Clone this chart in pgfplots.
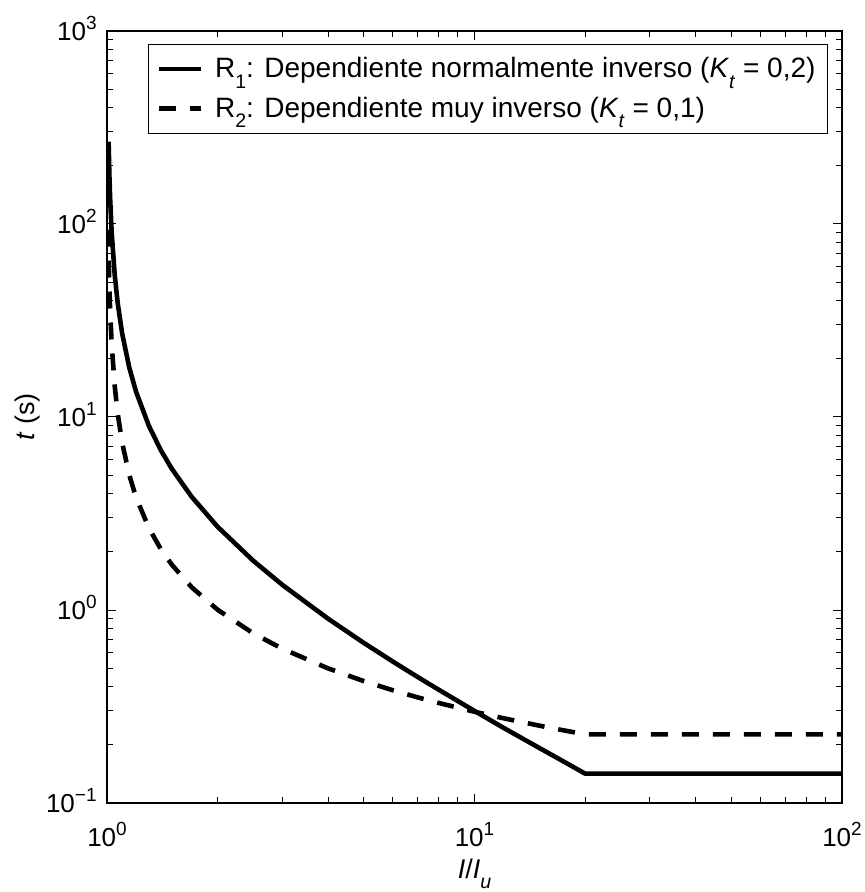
\documentclass[border=0pt]{standalone}
\usepackage{fontspec}
\setmainfont{Liberation Sans}
\usepackage{pgfplots}
\pgfplotsset{compat=1.18}

\newcommand\sus[1]{\raisebox{0.42em}{\fontsize{9.5}{10}\selectfont #1}}
\newcommand\sbs[1]{\raisebox{-0.38em}{\fontsize{9.8}{10}\selectfont #1}}

% R1 and R2
\pgfplotstableread{
I        t
1.0101   267
1.015    180
1.02     135
1.03     90
1.05     54
1.07     38.6
1.1      27
1.15     18
1.2      13.5
1.3      9.0
1.4      6.75
1.5      5.4
1.7      3.86
2        2.7
2.5      1.8
3        1.35
4        0.9
5        0.675
6        0.54
7        0.45
8        0.386
10       0.3
12       0.245
15       0.193
17       0.169
20       0.142
100      0.142
}\rone
\pgfplotstableread{
I        t
1.0075   93.6
1.0101   69.7
1.015    47.0
1.02     35.3
1.03     23.7
1.05     14.34
1.07     10.34
1.1      7.34
1.15     5.00
1.2      3.83
1.3      2.661
1.4      2.073
1.5      1.720
1.7      1.312
2        1.003
2.5      0.757
3        0.630
4        0.498
5        0.428
6        0.3837
7        0.3527
8        0.3297
10       0.2971
12       0.2748
15       0.2517
17       0.2403
20       0.2269
100      0.2269
}\rtwo

\begin{document}
\begin{tikzpicture}
\begin{axis}[
  scale only axis,
  width=367.5pt, height=386pt,
  xmode=log, ymode=log,
  xmin=1, xmax=100, ymin=0.1, ymax=1000,
  xtick={1,10,100},
  xticklabels={10\sus{0},10\sus{1},10\sus{2}},
  ytick={0.1,1,10,100,1000},
  yticklabels={10\sus{−1},10\sus{0},10\sus{1},10\sus{2},10\sus{3}},
  tick align=inside,
  major tick length=4.5pt, minor tick length=3pt,
  every tick/.style={black, line width=0.5pt},
  axis line style={line width=0.6pt},
  tick label style={font=\fontsize{13}{15}\selectfont, inner sep=0pt},
  xticklabel shift=9.5pt,
  yticklabel style={anchor=base east, xshift=-5pt, yshift=-4.6pt},
  xlabel={\textit{I}/\textit{I}\sbs{\textit{u}}},
  ylabel={\textit{t} (s)},
  label style={font=\fontsize{13.5}{15}\selectfont},
  xlabel style={at={(axis description cs:0.5,-0.0972)}, anchor=base},
  ylabel style={at={(axis description cs:-0.1075,0.5)}, anchor=center},
  legend style={
    at={(1,1)}, anchor=north east, xshift=-7pt, yshift=-6.5pt,
    draw=black, line width=0.5pt,
    font=\fontsize{14}{15}\selectfont,
    cells={anchor=west},
    inner xsep=4pt, inner ysep=4.5pt,
    row sep=4pt,
  },
  legend image code/.code={\draw[#1] (0pt,0pt) -- (21pt,0pt); \path (25pt,0pt);},
]
\coordinate (bl) at (rel axis cs:0,0);
\coordinate (tr) at (rel axis cs:1,1);
\addplot[black, line width=2.3pt, line join=round] table[x=I, y=t] {\rone};
\addlegendentry{R\sbs{1}: Dependiente normalmente inverso (\textit{K}\sbs{\textit{t}} = 0,2)}
\addplot[black, line width=2.3pt, dash pattern=on 8.5pt off 7pt] table[x=I, y=t] {\rtwo};
\addlegendentry{R\sbs{2}: Dependiente muy inverso (\textit{K}\sbs{\textit{t}} = 0,1)}
\end{axis}
\pgfresetboundingbox
\useasboundingbox ([shift={(-53.5pt,-44.5pt)}]bl) rectangle ([shift={(11.5pt,15.5pt)}]tr);
\end{tikzpicture}
\end{document}
